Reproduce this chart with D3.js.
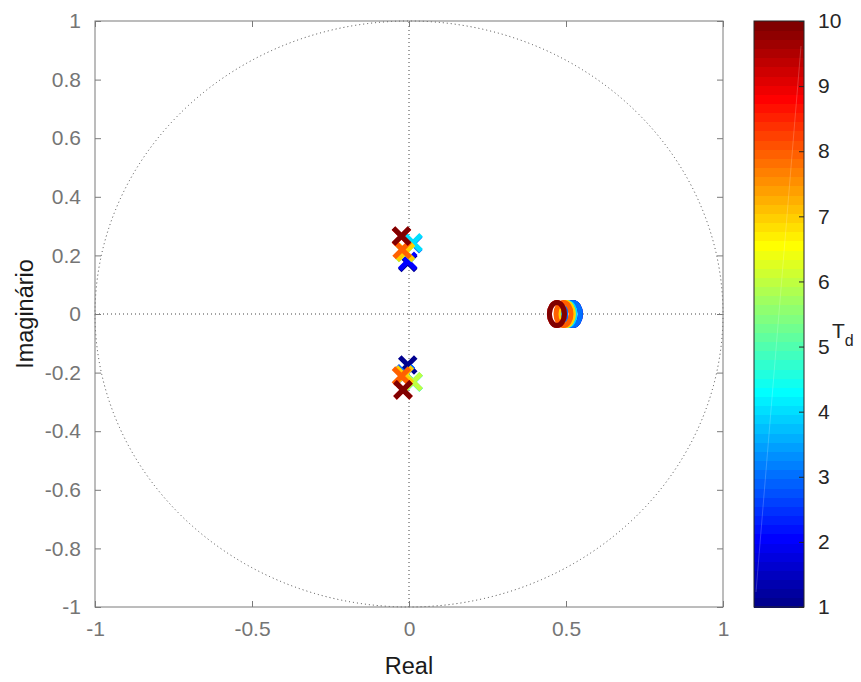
<!DOCTYPE html>
<html>
<head>
<meta charset="utf-8">
<script src="https://cdn.jsdelivr.net/npm/d3@7"></script>
<style>
  body { margin: 0; background: #fff; }
  text { font-family: "Liberation Sans", Arial, sans-serif; }
</style>
</head>
<body>
<div id="chart"></div>
<script>
// Td value of each system (drawn in this order)
var td = [1, 2, 3, 4, 5, 6, 7, 8, 9, 10];
// upper poles (real, imag)
var poleReUp = [-0.004, -0.004, 0.012, 0.013, -0.012, -0.012, -0.012, -0.022, -0.024, -0.024];
var poleImUp = [0.176, 0.180, 0.240, 0.243, 0.210, 0.210, 0.212, 0.220, 0.265, 0.266];
// lower poles (real, imag)
var poleReLo = [-0.004, -0.012, -0.012, 0.013, 0.013, 0.013, -0.015, -0.024, -0.019, -0.019];
var poleImLo = [-0.174, -0.205, -0.205, -0.232, -0.232, -0.231, -0.208, -0.212, -0.259, -0.259];
// zeros (real axis)
var zeroRe = [0.522, 0.522, 0.522, 0.505, 0.499, 0.499, 0.499, 0.492, 0.471, 0.471];

var xTicks = [-1, -0.5, 0, 0.5, 1];
var yTicks = [-1, -0.8, -0.6, -0.4, -0.2, 0, 0.2, 0.4, 0.6, 0.8, 1];
var cbTicks = [1, 2, 3, 4, 5, 6, 7, 8, 9, 10];

var W = 861, H = 682;
var plot = {left: 95, right: 723, top: 21, bottom: 607};
var cbar = {left: 754, right: 804};

// MATLAB jet(m)
function jet(m) {
  var n = Math.ceil(m / 4), u = [], i;
  for (i = 1; i <= n; i++) u.push(i / n);
  for (i = 1; i < n; i++) u.push(1);
  for (i = n; i >= 1; i--) u.push(i / n);
  var g0 = Math.ceil(n / 2) - (m % 4 === 1 ? 1 : 0);
  var cmap = [];
  for (i = 0; i < m; i++) cmap.push([0, 0, 0]);
  u.forEach(function(val, k) {
    var g = g0 + k + 1, r = g + n, b = g - n;
    if (g >= 1 && g <= m) cmap[g - 1][1] = val;
    if (r >= 1 && r <= m) cmap[r - 1][0] = val;
    if (b >= 1 && b <= m) cmap[b - 1][2] = val;
  });
  return cmap.map(function(c) {
    return d3.rgb(c[0] * 255, c[1] * 255, c[2] * 255).toString();
  });
}
var cmap = jet(64);
function colorOf(v) {
  var idx = Math.floor((v - 1) / 9 * 64);
  return cmap[Math.max(0, Math.min(63, idx))];
}

var x = d3.scaleLinear().domain([-1, 1]).range([plot.left, plot.right]);
var y = d3.scaleLinear().domain([-1, 1]).range([plot.bottom, plot.top]);
var cb = d3.scaleLinear().domain([1, 10]).range([plot.bottom, plot.top]);

var svg = d3.select("#chart").append("svg")
    .attr("width", W)
    .attr("height", H);

// dotted unit circle and axes lines
var dotted = svg.append("g")
    .attr("fill", "none")
    .attr("stroke", "#444")
    .attr("stroke-width", 1)
    .attr("stroke-dasharray", "1,3");
dotted.append("ellipse")
    .attr("cx", x(0)).attr("cy", y(0))
    .attr("rx", x(1) - x(0)).attr("ry", y(0) - y(1));
dotted.append("line")
    .attr("x1", x(-1)).attr("x2", x(1))
    .attr("y1", y(0)).attr("y2", y(0));
dotted.append("line")
    .attr("x1", x(0)).attr("x2", x(0))
    .attr("y1", y(-1)).attr("y2", y(1));

// axes box
var axisColor = "#7a7a7a";
svg.append("rect")
    .attr("x", plot.left).attr("y", plot.top)
    .attr("width", plot.right - plot.left)
    .attr("height", plot.bottom - plot.top)
    .attr("fill", "none")
    .attr("stroke", axisColor)
    .attr("stroke-width", 1);

var xAxis = svg.append("g")
    .attr("transform", "translate(0," + plot.bottom + ")")
    .call(d3.axisBottom(x).tickValues(xTicks).tickSize(-6).tickPadding(14)
      .tickFormat(function(d) { return String(d); }));
var xAxisTop = svg.append("g")
    .attr("transform", "translate(0," + plot.top + ")")
    .call(d3.axisTop(x).tickValues(xTicks).tickSize(-6).tickFormat(""));
var yAxis = svg.append("g")
    .attr("transform", "translate(" + plot.left + ",0)")
    .call(d3.axisLeft(y).tickValues(yTicks).tickSize(-6).tickPadding(14)
      .tickFormat(function(d) { return String(Math.round(d * 10) / 10); }));
var yAxisRight = svg.append("g")
    .attr("transform", "translate(" + plot.right + ",0)")
    .call(d3.axisRight(y).tickValues(yTicks).tickSize(-6).tickFormat(""));

[xAxis, xAxisTop, yAxis, yAxisRight].forEach(function(g) {
  g.select(".domain").remove();
  g.selectAll(".tick line").attr("stroke", axisColor);
  g.selectAll(".tick text")
      .attr("fill", "#757575")
      .style("font-size", "21px")
      .style("font-family", "Liberation Sans, Arial, sans-serif");
});
xAxis.selectAll(".tick text").attr("dy", "0.71em");

// axis labels
svg.append("text")
    .attr("x", x(0)).attr("y", 674)
    .attr("text-anchor", "middle")
    .attr("fill", "#1a1a1a")
    .style("font-size", "23.5px")
    .text("Real");
svg.append("text")
    .attr("transform", "translate(33," + y(0) + ") rotate(-90)")
    .attr("text-anchor", "middle")
    .attr("fill", "#1a1a1a")
    .style("font-size", "23.5px")
    .text("Imaginário");

// zeros (markers rendered as upright rings, as in the original)
svg.append("g").selectAll("ellipse")
    .data(td)
  .enter().append("ellipse")
    .attr("cx", function(d, i) { return x(zeroRe[i]); })
    .attr("cy", y(0))
    .attr("rx", 7.5)
    .attr("ry", 11.5)
    .attr("fill", "none")
    .attr("stroke", function(d) { return colorOf(d); })
    .attr("stroke-width", 5);

// poles
var s = 8;
function crossPath(px, py) {
  return "M" + (px - s) + "," + (py - s) + "L" + (px + s) + "," + (py + s) +
         "M" + (px - s) + "," + (py + s) + "L" + (px + s) + "," + (py - s);
}
var poles = svg.append("g");
td.forEach(function(d, i) {
  poles.append("path")
      .attr("d", crossPath(x(poleReUp[i]), y(poleImUp[i])) + crossPath(x(poleReLo[i]), y(poleImLo[i])))
      .attr("fill", "none")
      .attr("stroke", colorOf(d))
      .attr("stroke-width", 5);
});

// colorbar
var bandH = (plot.bottom - plot.top) / cmap.length;
svg.append("g").attr("shape-rendering", "crispEdges")
  .selectAll("rect")
    .data(cmap)
  .enter().append("rect")
    .attr("x", cbar.left)
    .attr("y", function(d, i) { return plot.bottom - (i + 1) * bandH; })
    .attr("width", cbar.right - cbar.left)
    .attr("height", bandH + 0.6)
    .attr("fill", function(d) { return d; });
// faint rendering streak seen in the original colorbar
svg.append("line")
    .attr("x1", cbar.left + 2).attr("y1", plot.bottom - 15)
    .attr("x2", cbar.right - 3).attr("y2", plot.top + 25)
    .attr("stroke", "#fff")
    .attr("stroke-opacity", 0.2)
    .attr("stroke-width", 1);
svg.append("rect")
    .attr("x", cbar.left).attr("y", plot.top)
    .attr("width", cbar.right - cbar.left)
    .attr("height", plot.bottom - plot.top)
    .attr("fill", "none")
    .attr("stroke", "#262626")
    .attr("stroke-width", 1);
var cbAxis = svg.append("g")
    .attr("transform", "translate(" + cbar.right + ",0)")
    .call(d3.axisRight(cb).tickValues(cbTicks).tickSize(-5).tickPadding(14));
cbAxis.select(".domain").remove();
cbAxis.selectAll(".tick line").attr("stroke", "#262626");
cbAxis.selectAll(".tick text")
    .attr("fill", "#262626")
    .style("font-size", "21px")
    .style("font-family", "Liberation Sans, Arial, sans-serif");

var tdLabel = svg.append("text")
    .attr("x", 832).attr("y", 338)
    .attr("fill", "#262626")
    .style("font-size", "21px");
tdLabel.append("tspan").text("T");
tdLabel.append("tspan").attr("dy", 8).style("font-size", "16px").text("d");
</script>
</body>
</html>
